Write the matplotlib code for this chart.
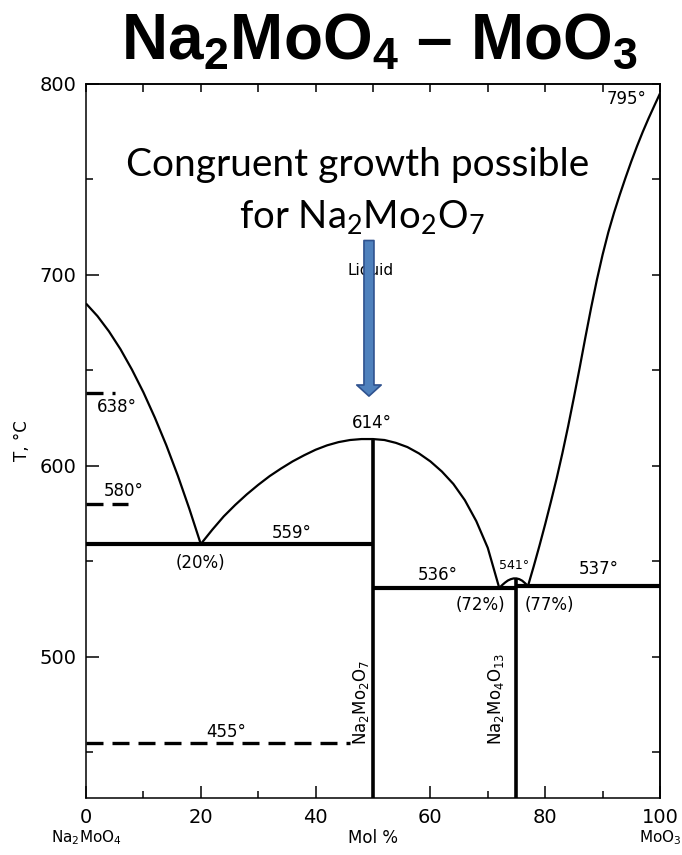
import matplotlib as mpl
mpl.use("Agg")
import matplotlib.pyplot as plt
from matplotlib.patches import FancyArrowPatch
from matplotlib.ticker import MultipleLocator

mpl.rcParams.update({
    "font.family": "DejaVu Sans",
    "mathtext.fontset": "custom",
    "mathtext.rm": "DejaVu Sans",
    "mathtext.sf": "Lato",
    "mathtext.bf": "Liberation Sans:bold",
    "axes.linewidth": 1.1,
})

# liquidus branches (mol % MoO3, deg C)
left_liq_x = [0, 2, 4, 6, 8, 10, 12, 14, 16, 18, 20]
left_liq_T = [685, 678.4, 670.4, 661.1, 650.4, 638.5, 625.2, 610.7, 594.8, 577.5, 559]
dome_x = [20, 22, 24, 26, 28, 30, 32, 34, 36, 38, 40, 42, 44, 46, 48, 50,
          52, 54, 56, 58, 60, 62, 64, 66, 68, 70, 72]
dome_T = [559, 566.5, 573.5, 579.5, 585, 590, 594.6, 598.6, 602.3, 605.5, 608.4,
          610.7, 612.4, 613.5, 614, 614,
          613.5, 612, 609.8, 606.5, 602.3, 597, 590.5, 582, 571, 557, 536]
hump_x = [72, 72.5, 73, 73.5, 74, 74.5, 75, 75.5, 76, 76.5, 77]
hump_T = [536, 537.5, 538.8, 539.9, 540.6, 541, 541, 540.6, 539.8, 538.5, 537]
right_liq_x = [77, 78, 79, 80, 81, 82, 83, 84, 85, 86, 87, 88,
               89, 90, 91, 92, 93, 94, 95, 96, 97, 98, 99, 100]
right_liq_T = [537, 547.3, 558.1, 569.4, 581.2, 593.4, 606.6, 620.7, 635.7, 651.2,
               667.2, 682.7, 697.3, 710.5, 722.3, 732.6, 742, 750.9, 759.4, 767.4,
               774.9, 781.9, 788.5, 795]

# invariant lines: (x start, x end, T)
eutectics = [(0, 50, 559), (50, 75, 536), (75, 100, 537)]
compounds_x = [50, 75]
compounds_T = [614, 541]
compound_names = ["Na$_2$Mo$_2$O$_7$", "Na$_2$Mo$_4$O$_{13}$"]
# dashed solid-state transitions: (x end, T)
transitions = [(5.1, 638), (7.3, 580), (46, 455)]

T_MIN, T_MAX = 426, 800

fig = plt.figure(figsize=(6.82, 8.55), dpi=100)
ax = fig.add_axes([0.1261, 0.0667, 0.8416, 0.8351])
ax.set_xlim(0, 100)
ax.set_ylim(T_MIN, T_MAX)

k = dict(color="black", solid_capstyle="butt", solid_joinstyle="round")
ax.plot(left_liq_x, left_liq_T, lw=1.6, **k)
ax.plot(dome_x, dome_T, lw=1.6, **k)
ax.plot(hump_x, hump_T, lw=1.6, **k)
ax.plot(right_liq_x, right_liq_T, lw=1.6, **k)
for x0, x1, T in eutectics:
    ax.plot([x0, x1], [T, T], lw=3.0, **k)
for x, T in zip(compounds_x, compounds_T):
    ax.plot([x, x], [T_MIN, T], lw=2.6, **k)
for x1, T in transitions:
    ax.plot([0, x1], [T, T], lw=2.4, color="black", linestyle=(0, (5.1, 2.7)),
            dash_capstyle="butt")

# temperature / composition labels
lab = dict(fontsize=12, ha="center", va="center")
ax.text(5.4, 631, "638°", **lab)
ax.text(6.6, 587, "580°", **lab)
ax.text(35.9, 565, "559°", **lab)
ax.text(19.9, 549, "(20%)", **lab)
ax.text(49.8, 622.5, "614°", **lab)
ax.text(61.2, 543, "536°", **lab)
ax.text(68.8, 527, "(72%)", **lab)
ax.text(74.5, 548, "541°", fontsize=9, ha="center", va="center")
ax.text(80.7, 527, "(77%)", **lab)
ax.text(89.3, 546, "537°", **lab)
ax.text(94.1, 792, "795°", **lab)
ax.text(24.5, 460.5, "455°", **lab)
ax.text(49.5, 702.5, "Liquid", fontsize=11, ha="center", va="center")
ax.text(47.9, 476, compound_names[0], fontsize=12, rotation=90, ha="center", va="center")
ax.text(71.4, 478, compound_names[1], fontsize=12, rotation=90, ha="center", va="center")

ax.text(47.4, 757.6, "Congruent growth possible", family="Lato", fontsize=28,
        ha="center", va="center")
ax.text(48.1, 729.8, r"for Na$_\mathsf{2}$Mo$_\mathsf{2}$O$_\mathsf{7}$", family="Lato",
        fontsize=27.5, ha="center", va="center")

arrow = FancyArrowPatch((49.3, 718), (49.3, 636.5),
                        arrowstyle="simple,head_width=2.2,head_length=1.0,tail_width=0.9",
                        mutation_scale=8, shrinkA=0, shrinkB=0,
                        facecolor="#4F81BD", edgecolor="#2F528F", lw=1.2, zorder=5)
ax.add_patch(arrow)

# axes, ticks
ax.xaxis.set_major_locator(MultipleLocator(20))
ax.xaxis.set_minor_locator(MultipleLocator(10))
ax.yaxis.set_major_locator(MultipleLocator(100))
ax.yaxis.set_minor_locator(MultipleLocator(50))
ax.tick_params(which="major", direction="in", length=9, width=1.1, labelsize=14, pad=7)
ax.tick_params(which="minor", direction="in", length=5, width=1.1)
top = ax.secondary_xaxis("top")
top.set_xticks(range(0, 101, 10))
top.tick_params(direction="in", length=6, width=1.1, labeltop=False)
right = ax.secondary_yaxis("right")
right.set_yticks(range(450, 801, 50))
right.tick_params(direction="in", length=6, width=1.1, labelright=False)

ax.set_xlabel("Mol %", fontsize=12, labelpad=2)
ax.set_ylabel("T, °C", fontsize=12, labelpad=6)
xt = ax.get_xaxis_transform()
ax.text(0, -0.056, "Na$_2$MoO$_4$", transform=xt, fontsize=11, ha="center", va="center")
ax.text(100, -0.056, "MoO$_3$", transform=xt, fontsize=11, ha="center", va="center")

fig.text(0.556, 0.952, r"Na$_\mathbf{2}$MoO$_\mathbf{4}$ – MoO$_\mathbf{3}$",
         family="Liberation Sans", fontweight="bold", fontsize=46,
         ha="center", va="center")

fig.savefig("out.png", dpi=100)
